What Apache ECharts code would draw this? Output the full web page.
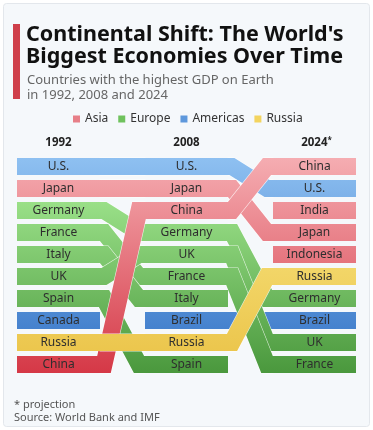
<!DOCTYPE html>
<html>
<head>
<meta charset="utf-8">
<script src="https://cdn.jsdelivr.net/npm/echarts@6/dist/echarts.min.js"></script>
<style>
html,body{margin:0;padding:0;background:#fff;}
#c{width:373px;height:430px;}
</style>
</head>
<body>
<div id="c"></div>
<script>
// ---- data ----
const years = ['1992', '2008', '2024'];
const yearMarks = ['', '', '*'];
const rank1992 = ['U.S.', 'Japan', 'Germany', 'France', 'Italy', 'UK', 'Spain', 'Canada', 'Russia', 'China'];
const rank2008 = ['U.S.', 'Japan', 'China', 'Germany', 'UK', 'France', 'Italy', 'Brazil', 'Russia', 'Spain'];
const rank2024 = ['China', 'U.S.', 'India', 'Japan', 'Indonesia', 'Russia', 'Germany', 'Brazil', 'UK', 'France'];
const asiaCountries = ['Japan', 'China', 'India', 'Indonesia'];
const europeCountries = ['Germany', 'France', 'Italy', 'UK', 'Spain'];
const americasCountries = ['U.S.', 'Canada', 'Brazil'];
const russiaCountries = ['Russia'];
const legendNames = ['Asia', 'Europe', 'Americas', 'Russia'];

// ---- styling / layout ----
const FONT = '"Noto Sans", "Open Sans", sans-serif';
const ranks = [rank1992, rank2008, rank2024];
const COL_X = [0, 128, 256];   // axis units (1 unit = 1px)
const BAR_W = 83;
const BAR_H = 17 / 22;         // in row units
const regionDefs = {
  Asia:     { list: asiaCountries,     top: '#f5adb2', bot: '#d53846', mid: '#e77f88' },
  Europe:   { list: europeCountries,   top: '#aef29b', bot: '#4a983d', mid: '#6fc25d' },
  Americas: { list: americasCountries, top: '#8ec0f1', bot: '#3372c5', mid: '#5e98dc' },
  Russia:   { list: russiaCountries,   top: '#fbeb8c', bot: '#eac246', mid: '#f3d45f' }
};
const drawOrder = ['Americas', 'Europe', 'Asia', 'Russia'];

function itemsFor(region) {
  const list = regionDefs[region].list;
  const ribs = [], bars = [];
  for (let j = 0; j < 2; j++) {
    ranks[j].forEach((n, r) => {
      if (list.indexOf(n) < 0) return;
      const r2 = ranks[j + 1].indexOf(n);
      if (r2 >= 0) ribs.push({ kind: 'rib', col: j, r1: r, r2: r2, name: n });
    });
  }
  ranks.forEach((arr, j) => arr.forEach((n, r) => {
    if (list.indexOf(n) >= 0) bars.push({ kind: 'bar', col: j, r1: r, name: n });
  }));
  return ribs.concat(bars);
}

function makeSeries(region) {
  const def = regionDefs[region];
  const items = itemsFor(region);
  return {
    type: 'custom',
    name: region,
    coordinateSystem: 'cartesian2d',
    clip: false,
    silent: true,
    itemStyle: { color: def.mid },
    data: items.map(it => [COL_X[it.col], it.r1]),
    renderItem: function (params, api) {
      const it = items[params.dataIndex];
      const yTop = api.coord([0, 0])[1];
      const yBot = api.coord([0, 9 + BAR_H])[1];
      const grad = new echarts.graphic.LinearGradient(0, yTop, 0, yBot,
        [{ offset: 0, color: def.top }, { offset: 1, color: def.bot }], true);
      const lw = api.size([0, BAR_H])[1];
      if (it.kind === 'rib') {
        const x1 = api.coord([COL_X[it.col] + BAR_W, 0])[0];
        const x2 = api.coord([COL_X[it.col + 1], 0])[0];
        const y1 = api.coord([0, it.r1 + BAR_H / 2])[1];
        const y2 = api.coord([0, it.r2 + BAR_H / 2])[1];
        const pts = it.r1 === it.r2
          ? [[x1 - 0.5, y1], [x2 + 0.5, y2]]
          : [[x1 - 0.5, y1], [x1 + 4, y1], [x2 - 6, y2], [x2 + 0.5, y2]];
        return {
          type: 'group',
          children: [
            { type: 'polyline', shape: { points: pts },
              style: { fill: null, stroke: 'rgba(255,255,255,0.8)', lineWidth: lw + 1.2, lineJoin: 'miter', miterLimit: 10, lineCap: 'butt' } },
            { type: 'polyline', shape: { points: pts },
              style: { fill: null, stroke: grad, lineWidth: lw, lineJoin: 'miter', miterLimit: 10, lineCap: 'butt' } }
          ]
        };
      }
      const p0 = api.coord([COL_X[it.col], it.r1]);
      const p1 = api.coord([COL_X[it.col] + BAR_W, it.r1 + BAR_H]);
      return {
        type: 'group',
        children: [
          { type: 'rect', shape: { x: p0[0], y: p0[1], width: p1[0] - p0[0], height: p1[1] - p0[1] },
            style: { fill: grad } },
          { type: 'text', style: { text: it.name, x: (p0[0] + p1[0]) / 2, y: (p0[1] + p1[1]) / 2 + 0.5,
              textAlign: 'center', textVerticalAlign: 'middle', fill: '#2e2e2e', fontSize: 12, fontFamily: FONT } }
        ]
      };
    }
  };
}

const headerSeries = {
  type: 'custom',
  name: 'headers',
  coordinateSystem: 'cartesian2d',
  clip: false,
  silent: true,
  data: years.map((y, j) => [COL_X[j] + BAR_W / 2, 0]),
  renderItem: function (params, api) {
    const p = api.coord([api.value(0), 0]);
    const i = params.dataIndex;
    const txt = yearMarks[i] ? '{y|' + years[i] + '}{s|' + yearMarks[i] + '}' : '{y|' + years[i] + '}';
    return { type: 'text', style: { text: txt, x: p[0] + (yearMarks[i] ? 2 : 0), y: p[1] - 15,
      textAlign: 'center', textVerticalAlign: 'middle',
      rich: {
        y: { fill: '#222', fontSize: 11.5, fontWeight: 'bold', fontFamily: FONT },
        s: { fill: '#222', fontSize: 8, fontWeight: 'bold', fontFamily: FONT, padding: [0, 0, 5, 0] }
      } } };
  }
};

const chart = echarts.init(document.getElementById('c'), null, { renderer: 'canvas' });
chart.setOption({
  animation: false,
  backgroundColor: '#ffffff',
  legend: {
    data: legendNames.map(n => ({ name: n, itemStyle: { color: regionDefs[n].mid } })),
    left: 68, top: 108, icon: 'rect', itemWidth: 7, itemHeight: 7, itemGap: 10,
    selectedMode: false,
    textStyle: { fontSize: 12, color: '#333', fontFamily: FONT }
  },
  graphic: [
    { type: 'rect', z: -10, shape: { x: 3.5, y: 3.5, width: 366, height: 423, r: 3 },
      style: { fill: '#f5f8fb', stroke: '#e3e7ec', lineWidth: 1 } },
    { type: 'rect', shape: { x: 13, y: 24, width: 7, height: 75 }, style: { fill: '#cf3f4b' } },
    { type: 'text', left: 26, top: 24,
      style: { text: "Continental Shift: The World's\nBiggest Economies Over Time", fill: '#111',
        fontSize: 21.5, fontWeight: 'bold', lineHeight: 22, fontFamily: FONT } },
    { type: 'text', left: 27, top: 73,
      style: { text: 'Countries with the highest GDP on Earth\nin 1992, 2008 and 2024', fill: '#666',
        fontSize: 13, lineHeight: 15, fontFamily: FONT } },
    { type: 'text', left: 14, top: 398, style: { text: '* projection\nSource: World Bank and IMF', fill: '#555', fontSize: 11, lineHeight: 13, fontFamily: FONT } }
  ],
  grid: { left: 17, top: 158, width: 339, height: 220 },
  xAxis: { type: 'value', min: 0, max: 339, show: false },
  yAxis: { type: 'value', min: 0, max: 10, inverse: true, show: false },
  series: drawOrder.map(makeSeries).concat([headerSeries])
});
</script>
</body>
</html>
